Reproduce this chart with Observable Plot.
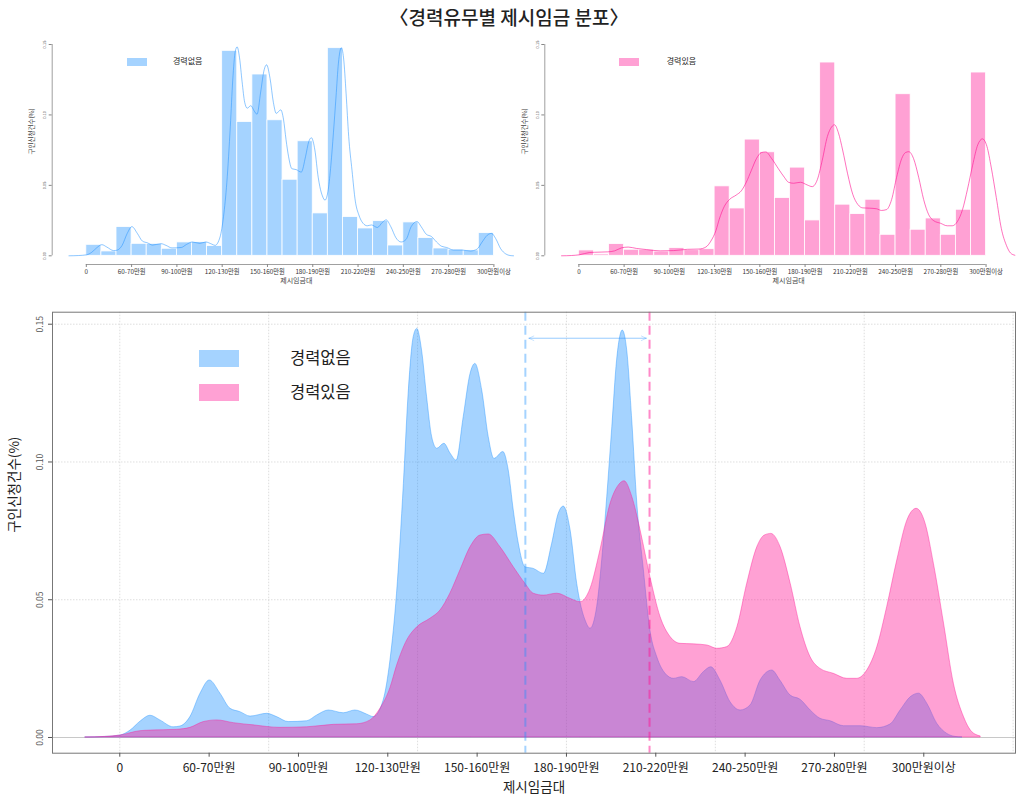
<!DOCTYPE html>
<html><head><meta charset="utf-8">
<script src="https://cdn.jsdelivr.net/npm/d3@7"></script>
<script src="https://cdn.jsdelivr.net/npm/@observablehq/plot@0.6"></script>
<style>
body{margin:0;background:#fff;font-family:"Noto Sans CJK KR","Noto Sans",sans-serif;}
#wrap{position:relative;width:1018px;height:798px;overflow:hidden;background:#fff;}
.abs{position:absolute;}
#title{left:0;width:1018px;top:3px;text-align:center;font-size:19px;font-weight:500;color:#222;line-height:28px;}
.lg{white-space:nowrap;color:#222;}
</style></head><body><div id="wrap"><div id="title" class="abs">〈경력유무별 제시임금 분포〉</div></div>
<script>
// ---- data ----
const tickPos = [0,3,6,9,12,15,18,21,24,27];
const tickLabels = ["0","60-70만원","90-100만원","120-130만원","150-160만원","180-190만원","210-220만원","240-250만원","270-280만원","300만원이상"];
const seriesNames = ["경력없음","경력있음"];
const xTitle = "제시임금대";
const yTitle = "구인신청건수(%)";
const yTicks = [0,0.05,0.10,0.15];
const gridXTicks = [0,5,10,15,20,25,30];

// histogram shares per wage category (27 bins)
const noExpHist = [0.0078,0.0031,0.0204,0.0085,0.0085,0.005,0.0095,0.0097,0.0069,0.1455,0.095,0.1287,0.0962,0.054,0.0813,0.0301,0.1474,0.0275,0.0194,0.0246,0.0073,0.0237,0.0126,0.0052,0.0043,0.0038,0.0161];
const expHist = [0.0038,0.001,0.0083,0.0043,0.0043,0.003,0.0055,0.004,0.0047,0.0493,0.0336,0.0825,0.0735,0.041,0.0626,0.0251,0.1372,0.0363,0.0296,0.0398,0.0149,0.1147,0.0185,0.0265,0.0149,0.0327,0.1301];

// density curves (x in category units)
const noExpDensX = [-1.15,-0.5,0.02,0.36,0.7,1.03,1.36,1.81,2.04,2.37,2.71,3.02,3.38,3.72,4.05,4.39,4.95,5.28,5.67,6.29,6.63,7.02,7.52,7.91,8.31,8.53,8.86,9.09,9.31,9.54,9.70,9.87,9.99,10.15,10.32,10.49,10.66,10.90,11.11,11.31,11.55,11.78,11.94,12.17,12.39,12.58,12.88,13.06,13.23,13.40,13.62,13.90,14.24,14.52,14.74,14.91,15.14,15.36,15.47,15.64,15.81,16.03,16.20,16.37,16.54,16.70,16.89,17.04,17.21,17.38,17.60,17.82,18.05,18.33,18.61,18.89,19.28,19.61,19.86,20.17,20.51,20.85,21.18,21.52,21.91,22.18,22.53,22.86,23.20,23.53,23.87,24.32,24.88,25.44,25.88,26.22,26.56,26.84,27.12,27.45,27.79,28.07,28.3];
const noExpDensY = [0,0.0002,0.0007,0.0025,0.0058,0.0079,0.0062,0.0037,0.004,0.0074,0.0159,0.0207,0.0159,0.0104,0.0092,0.0076,0.0086,0.0074,0.0056,0.0059,0.008,0.0098,0.0088,0.0098,0.0083,0.0074,0.0134,0.028,0.0522,0.092,0.1247,0.1453,0.1483,0.1405,0.1235,0.109,0.1048,0.1066,0.103,0.1005,0.1163,0.132,0.1356,0.126,0.109,0.1011,0.1036,0.097,0.0824,0.0703,0.0618,0.0612,0.0594,0.0703,0.0812,0.0838,0.0751,0.0558,0.0491,0.0425,0.0395,0.0473,0.0643,0.0873,0.1127,0.1368,0.1477,0.1405,0.115,0.0848,0.0607,0.0388,0.0291,0.0231,0.0213,0.0219,0.0201,0.0237,0.0255,0.0207,0.0128,0.0098,0.0116,0.0207,0.0243,0.0207,0.0152,0.0137,0.0098,0.0068,0.0059,0.0041,0.0041,0.0034,0.0047,0.0098,0.0146,0.0159,0.0122,0.005,0.0013,0.0002,0];
const expDensX = [-1.15,-0.5,0.02,0.69,1.03,1.92,2.37,2.82,3.27,3.83,4.50,5.39,6.29,7.19,7.97,8.42,8.75,9.09,9.31,9.65,9.99,10.43,10.77,11.10,11.44,11.78,12.11,12.39,12.78,13.23,13.62,13.90,14.24,14.69,15.14,15.47,15.81,16.14,16.48,16.76,16.95,17.21,17.49,17.82,18.16,18.50,18.83,19.28,19.73,20.06,20.40,20.74,21.07,21.41,21.66,21.88,22.19,22.53,22.86,23.20,23.53,23.98,24.43,24.76,25.10,25.44,25.77,26.11,26.45,26.76,27.06,27.34,27.68,28.01,28.35,28.63,28.91];
const expDensY = [0,0.0002,0.0007,0.0023,0.0025,0.0028,0.0035,0.0056,0.0062,0.0052,0.0044,0.0035,0.0037,0.0046,0.0048,0.0062,0.0104,0.018,0.026,0.0352,0.04,0.0431,0.0461,0.0522,0.0607,0.0691,0.0733,0.0737,0.0691,0.0618,0.0558,0.0522,0.0515,0.0522,0.0503,0.0491,0.054,0.0679,0.0848,0.0915,0.093,0.0873,0.0751,0.0582,0.0437,0.0364,0.034,0.0338,0.0334,0.0322,0.0328,0.04,0.0558,0.0691,0.0733,0.0739,0.0691,0.0558,0.04,0.0291,0.0249,0.0231,0.0213,0.0213,0.0243,0.0328,0.0473,0.0643,0.0788,0.083,0.0776,0.063,0.0413,0.0195,0.0074,0.0019,0.0004];

// mean positions (category units)
const noExpMean = 13.62;
const expMean = 17.79;
const arrowLevel = 0.1449;
const arrowEnds = [13.74, 17.68];

// ---- styling ----
const BLUE = "rgb(30,144,255)";
const PINK = "rgb(255,20,147)";
const BLUE_F = "rgba(30,144,255,0.4)";
const PINK_F = "rgba(255,20,147,0.4)";
const FONT = "'Noto Sans CJK KR','Noto Sans',sans-serif";
const xDomain = [-2.26, 30.08];

const wrap = document.getElementById("wrap");
const toPts = (xs, ys) => xs.map((x, i) => ({x, y: ys[i]}));
const bins = h => h.map((v, k) => ({x1: k, x2: k + 1, y: v}));
const fmtTick = d => tickLabels[tickPos.indexOf(d)];

function place(el, left, top) {
  el.style.position = "absolute";
  el.style.left = left + "px";
  el.style.top = top + "px";
  wrap.appendChild(el);
}
function legendItem(left, top, w, h, color, textLeft, textMidY, label, fs) {
  const r = document.createElement("div");
  r.style.cssText = `width:${w}px;height:${h}px;background:${color};`;
  place(r, left, top);
  const t = document.createElement("div");
  t.className = "lg";
  t.style.cssText += `font-size:${fs}px;line-height:${fs}px;`;
  t.textContent = label;
  place(t, textLeft, textMidY - fs / 2 - 1);
}

// ---- top histograms ----
function topChart(hist, dens, fill, lineOpacity, stroke, svgLeft, width, mLeft, mRight) {
  const p = Plot.plot({
    width, height: 265,
    marginLeft: mLeft, marginRight: mRight, marginTop: 14, marginBottom: 31,
    style: {background: "transparent", fontFamily: FONT, overflow: "visible"},
    x: {domain: xDomain},
    y: {domain: [0, 0.15], range: [225.3, 14]},
    marks: [
      Plot.rectY(bins(hist), {x1: "x1", x2: "x2", y: "y", fill, stroke: "white", strokeWidth: 0.8}),
      Plot.line(dens, {x: "x", y: "y", stroke, strokeOpacity: lineOpacity, strokeWidth: 1, curve: "monotone-x"}),
      Plot.ruleY([0], {x1: () => tickPos[0], x2: () => tickPos[tickPos.length - 1], dy: 8.7, stroke: "#888", strokeWidth: 0.8}),
      Plot.axisX(tickPos, {tickFormat: fmtTick, tickSize: 3, tickPadding: 2, fontSize: 6.3, stroke: "#888", fill: "#333", label: null}),
      Plot.ruleX([xDomain[0]], {y1: () => yTicks[0], y2: () => yTicks[yTicks.length - 1], stroke: "#888", strokeWidth: 0.8}),
      Plot.axisY(yTicks, {tickFormat: d3.format(".2f"), tickSize: 3, tickPadding: 3, fontSize: 4, tickRotate: -90, stroke: "#888", fill: "#555", label: null}),
      Plot.text([xTitle], {frameAnchor: "bottom", dy: 18, fontSize: 7, fill: "#444"}),
      Plot.text([yTitle], {frameAnchor: "left", dx: -20, rotate: -90, fontSize: 6.5, fill: "#444"})
    ]
  });
  place(p, svgLeft, 30);
}
topChart(noExpHist, toPts(noExpDensX, noExpDensY), BLUE_F, 0.5, BLUE, 0, 545, 51.7, 5.1);
topChart(expHist, toPts(expDensX, expDensY), PINK_F, 0.6, PINK, 515, 523, 29.3, 6);
legendItem(126.7, 57.7, 20, 8.3, BLUE_F, 173, 62, seriesNames[0], 8);
legendItem(619.3, 57.7, 20, 8.3, PINK_F, 666.7, 62, seriesNames[1], 8);

// ---- bottom density chart ----
const bottom = Plot.plot({
  width: 1018, height: 498,
  marginLeft: 52, marginRight: 3, marginTop: 11.7, marginBottom: 45.3,
  style: {background: "transparent", fontFamily: FONT},
  x: {domain: xDomain},
  y: {domain: [-0.0057, 0.15436]},
  marks: [
    Plot.gridX(gridXTicks, {stroke: "#d6d6d6", strokeOpacity: 1, strokeDasharray: "1.5,1.5", strokeWidth: 0.8}),
    Plot.gridY(yTicks.slice(1), {stroke: "#d6d6d6", strokeOpacity: 1, strokeDasharray: "1.5,1.5", strokeWidth: 0.8}),
    Plot.ruleY([0], {stroke: "#c8c8c8", strokeWidth: 1}),
    Plot.areaY(toPts(noExpDensX, noExpDensY), {x: "x", y: "y", fill: BLUE_F, stroke: BLUE_F, strokeWidth: 1, curve: "monotone-x"}),
    Plot.areaY(toPts(expDensX, expDensY), {x: "x", y: "y", fill: PINK_F, stroke: PINK_F, strokeWidth: 1, curve: "monotone-x"}),
    Plot.ruleX([noExpMean], {stroke: BLUE, strokeOpacity: 0.4, strokeWidth: 2, strokeDasharray: "9,5"}),
    Plot.ruleX([expMean], {stroke: PINK, strokeOpacity: 0.5, strokeWidth: 2, strokeDasharray: "9,5"}),
    Plot.arrow([{a: arrowEnds[0], b: arrowEnds[1]}, {a: arrowEnds[1], b: arrowEnds[0]}], {x1: "a", x2: "b", y1: () => arrowLevel, y2: () => arrowLevel, stroke: BLUE, strokeOpacity: 0.25, strokeWidth: 1, headLength: 8, headAngle: 50}),
    Plot.frame({stroke: "#777", strokeWidth: 1}),
    Plot.axisX(tickPos, {tickFormat: fmtTick, tickSize: 4, tickPadding: 6, fontSize: 12, stroke: "#555", fill: "#222", label: null}),
    Plot.axisY(yTicks, {tickFormat: d3.format(".2f"), tickSize: 4, tickPadding: 6, fontSize: 8.5, tickRotate: -90, stroke: "#555", fill: "#555", label: null}),
    Plot.text([xTitle], {frameAnchor: "bottom", dy: 38.5, fontSize: 13.5, fill: "#222"}),
    Plot.text([yTitle], {frameAnchor: "left", dx: -38, rotate: -90, fontSize: 13.5, fill: "#222"})
  ]
});
place(bottom, 0, 300);
legendItem(199.3, 350, 40, 16.7, BLUE_F, 290, 358.3, seriesNames[0], 16.5);
legendItem(199.3, 384, 40, 16.7, PINK_F, 290, 392, seriesNames[1], 16.5);
</script></body></html>
